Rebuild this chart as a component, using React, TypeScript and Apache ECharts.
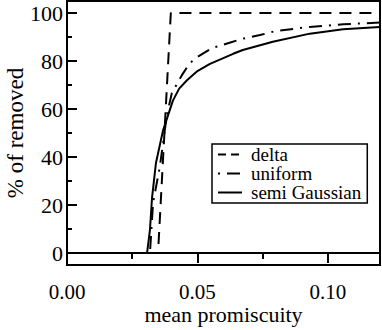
import React, { useEffect, useRef } from "react";
import * as echarts from "echarts";

const xMajor = [0, 0.05, 0.1];
const xMinor = [0.025, 0.075];
const yMajor = [0, 20, 40, 60, 80, 100];
const yMinor = [10, 30, 50, 70, 90];

const deltaX = [0, 0.0349, 0.0398, 0.12];
const deltaY = [0, 0, 100, 100];

const uniformX = [0, 0.0318, 0.033, 0.0356, 0.0383, 0.0402, 0.044, 0.047, 0.05, 0.0556, 0.062, 0.0674, 0.074, 0.08, 0.093, 0.106, 0.12];
const uniformY = [0, 0, 21, 36, 57.5, 66.7, 74, 79, 81.7, 85.4, 87.5, 89.3, 90.8, 92.5, 94.2, 95.3, 96];

const gaussX = [0.0135, 0.0307, 0.0318, 0.0326, 0.0341, 0.0368, 0.0406, 0.043, 0.046, 0.05, 0.0548, 0.0637, 0.0674, 0.0789, 0.0931, 0.1058, 0.12];
const gaussY = [0, 0, 9.6, 23, 37.5, 51, 63.5, 68.5, 72, 75.8, 78.8, 83, 84.6, 88, 91.4, 93.2, 94.2];

const seriesNames = ["delta", "uniform", "semi Gaussian"];

const FONT = "'Liberation Serif', 'Times New Roman', serif";

const zip = (xs: number[], ys: number[]) => xs.map((x, i) => [x, ys[i]]);

export default function App() {
  const ref = useRef<HTMLDivElement>(null);
  useEffect(() => {
    if (!ref.current) return;
    const chart = echarts.init(ref.current, undefined, { renderer: "svg" });
    const black = "#000";
    const tickStyle = { color: black, width: 2 };
    const hiddenSymbol = { opacity: 0, borderWidth: 0 };
    chart.setOption({
      animation: false,
      backgroundColor: "#fff",
      grid: {
        left: 67,
        top: 1,
        right: 2,
        bottom: 65,
        show: true,
        containLabel: false,
        outerBoundsMode: "none",
        borderColor: black,
        borderWidth: 2,
        backgroundColor: "transparent",
      },
      legend: {
        left: 212,
        top: 144,
        orient: "vertical",
        borderColor: black,
        borderWidth: 1.5,
        padding: [1, 6, 1, 5],
        itemGap: 0,
        itemWidth: 24,
        itemHeight: 14,
        itemStyle: hiddenSymbol,
        textStyle: { fontFamily: FONT, fontSize: 19, color: black, padding: [0, 0, 0, 4] },
        data: [
          { name: seriesNames[0], itemStyle: hiddenSymbol, lineStyle: { type: [8, 5], width: 2, color: black } },
          { name: seriesNames[1], itemStyle: hiddenSymbol, lineStyle: { type: [2, 7, 13, 7], width: 2, color: black } },
          { name: seriesNames[2], itemStyle: hiddenSymbol, lineStyle: { type: "solid", width: 2, color: black } },
        ],
      },
      xAxis: [
        {
          type: "value",
          min: 0,
          max: 0.12,
          position: "bottom",
          axisLine: { lineStyle: { color: black, width: 2 } },
          axisTick: { customValues: xMajor, length: 10, lineStyle: tickStyle },
          axisLabel: {
            customValues: xMajor,
            formatter: (v: number) => v.toFixed(2),
            fontFamily: FONT,
            fontSize: 21,
            lineHeight: 18,
            color: black,
            margin: 18,
          },
          splitLine: { show: false },
          name: "mean promiscuity",
          nameLocation: "middle",
          nameGap: 40,
          nameMoveOverlap: false,
          nameTextStyle: { fontFamily: FONT, fontSize: 22, lineHeight: 18, color: black },
        },
        {
          type: "value",
          min: 0,
          max: 0.12,
          position: "bottom",
          axisLine: { show: false },
          axisTick: { customValues: xMinor, length: 6, lineStyle: tickStyle },
          axisLabel: { show: false },
          splitLine: { show: false },
        },
      ],
      yAxis: [
        {
          type: "value",
          min: -5,
          max: 105,
          position: "left",
          axisLine: { show: true, lineStyle: { color: black, width: 2 } },
          axisTick: { customValues: yMajor, inside: true, length: 10, lineStyle: tickStyle },
          axisLabel: {
            customValues: yMajor,
            fontFamily: FONT,
            fontSize: 22,
            color: black,
            margin: 4,
          },
          splitLine: { show: false },
          name: "% of removed",
          nameLocation: "middle",
          nameGap: 40,
          nameMoveOverlap: false,
          nameTextStyle: { fontFamily: FONT, fontSize: 23, color: black },
        },
        {
          type: "value",
          min: -5,
          max: 105,
          position: "left",
          axisLine: { show: false },
          axisTick: { customValues: yMinor, inside: true, length: 5, lineStyle: tickStyle },
          axisLabel: { show: false },
          splitLine: { show: false },
        },
      ],
      series: [
        {
          name: seriesNames[0],
          type: "line",
          data: zip(deltaX, deltaY),
          symbol: "none",
          lineStyle: { color: black, width: 2, type: [12, 8] },
          itemStyle: { color: black },
        },
        {
          name: seriesNames[1],
          type: "line",
          data: zip(uniformX, uniformY),
          symbol: "none",
          lineStyle: { color: black, width: 2, type: [13, 7, 2, 7] },
          itemStyle: { color: black },
        },
        {
          name: seriesNames[2],
          type: "line",
          data: zip(gaussX, gaussY),
          symbol: "none",
          lineStyle: { color: black, width: 2, type: "solid" },
          itemStyle: { color: black },
        },
      ],
    });
    return () => chart.dispose();
  }, []);
  return <div ref={ref} style={{ width: 382, height: 330, position: "absolute", left: 0, top: 0 }} />;
}
